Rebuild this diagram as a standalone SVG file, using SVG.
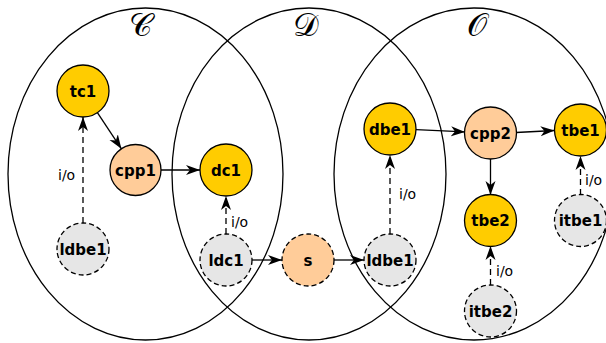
<svg xmlns="http://www.w3.org/2000/svg" width="606" height="343" viewBox="0 0 606 343">
<style>
.set{fill:none;stroke:#000;stroke-width:1.3}
.setl{font-family:"DejaVu Serif","Liberation Serif",serif;font-size:32px;fill:#000;text-anchor:middle}
.n{stroke:#000;stroke-width:1.3}
.y{fill:#ffcc00}
.p{fill:#ffcc99}
.g{fill:#e6e6e6}
.d{stroke-dasharray:5,3}
.t{font-family:"DejaVu Sans","Liberation Sans",sans-serif;font-size:15px;font-weight:bold;fill:#000;text-anchor:middle}
.e{stroke:#000;stroke-width:1.3;fill:none}
.ed{stroke-dasharray:6,4}
.io{font-family:"DejaVu Sans","Liberation Sans",sans-serif;font-size:14px;fill:#000}
</style>
<defs>
<marker id="ah" markerUnits="userSpaceOnUse" markerWidth="16" markerHeight="12" refX="14" refY="5.5" orient="auto">
<path d="M0,0.5 L14,5.5 L0,10.5 L4,5.5 Z" fill="#000"/>
</marker>
</defs>
<g id="sets">
<ellipse class="set" cx="145.5" cy="174" rx="137.5" ry="166"/>
<ellipse class="set" cx="309" cy="174" rx="137" ry="166"/>
<ellipse class="set" cx="474" cy="174" rx="140" ry="166"/>
<text class="setl" x="140" y="36">𝒞</text>
<text class="setl" x="306" y="36">𝒟</text>
<text class="setl" x="477" y="36">𝒪</text>
</g>
<g id="connectors">
<line class="e" x1="97.4" y1="112.6" x2="121.4" y2="148.8" marker-end="url(#ah)"/>
<line class="e" x1="161" y1="170" x2="200" y2="170" marker-end="url(#ah)"/>
<line class="e ed" x1="83" y1="223" x2="83" y2="117" marker-end="url(#ah)"/>
<text class="io" x="58" y="180">i/o</text>
<line class="e ed" x1="226" y1="234" x2="226" y2="196" marker-end="url(#ah)"/>
<text class="io" x="231" y="227">i/o</text>
<line class="e" x1="252" y1="260" x2="282" y2="260" marker-end="url(#ah)"/>
<line class="e" x1="334" y1="260" x2="364" y2="260" marker-end="url(#ah)"/>
<line class="e ed" x1="390" y1="234" x2="390" y2="155" marker-end="url(#ah)"/>
<text class="io" x="399" y="199">i/o</text>
<line class="e" x1="416" y1="129.7" x2="465" y2="131.9" marker-end="url(#ah)"/>
<line class="e" x1="516" y1="132.5" x2="554.5" y2="130.5" marker-end="url(#ah)"/>
<line class="e" x1="490.5" y1="159" x2="490.5" y2="195" marker-end="url(#ah)"/>
<line class="e ed" x1="490.5" y1="285" x2="490.5" y2="246" marker-end="url(#ah)"/>
<text class="io" x="496" y="276">i/o</text>
<line class="e ed" x1="580.5" y1="195" x2="580.5" y2="156" marker-end="url(#ah)"/>
<text class="io" x="585" y="185">i/o</text>
</g>
<g id="tc1"><circle class="n y" cx="83" cy="91" r="26"/><text class="t" x="83" y="96.5">tc1</text></g>
<g id="cpp1"><circle class="n p" cx="135.5" cy="170" r="25.5"/><text class="t" x="135.5" y="175.5">cpp1</text></g>
<g id="dc1"><circle class="n y" cx="226" cy="170" r="26"/><text class="t" x="226" y="175.5">dc1</text></g>
<g id="ldbe1-c"><circle class="n g d" cx="83" cy="249" r="26"/><text class="t" x="83" y="254.5">ldbe1</text></g>
<g id="ldc1"><circle class="n g d" cx="226" cy="260" r="26"/><text class="t" x="226" y="265.5">ldc1</text></g>
<g id="s"><circle class="n p d" cx="308" cy="260" r="26"/><text class="t" x="308" y="265.5">s</text></g>
<g id="ldbe1-d"><circle class="n g d" cx="390" cy="260" r="26"/><text class="t" x="390" y="265.5">ldbe1</text></g>
<g id="dbe1"><circle class="n y" cx="390" cy="129" r="26"/><text class="t" x="390" y="134.5">dbe1</text></g>
<g id="cpp2"><circle class="n p" cx="490.5" cy="133" r="26"/><text class="t" x="490.5" y="138.5">cpp2</text></g>
<g id="tbe1"><circle class="n y" cx="580.5" cy="130" r="26"/><text class="t" x="580.5" y="135.5">tbe1</text></g>
<g id="tbe2"><circle class="n y" cx="490.5" cy="220.5" r="26"/><text class="t" x="490.5" y="226">tbe2</text></g>
<g id="itbe1"><circle class="n g d" cx="580.5" cy="220.5" r="26"/><text class="t" x="580.5" y="226">itbe1</text></g>
<g id="itbe2"><circle class="n g d" cx="490.5" cy="311" r="26"/><text class="t" x="490.5" y="316.5">itbe2</text></g>
</svg>
